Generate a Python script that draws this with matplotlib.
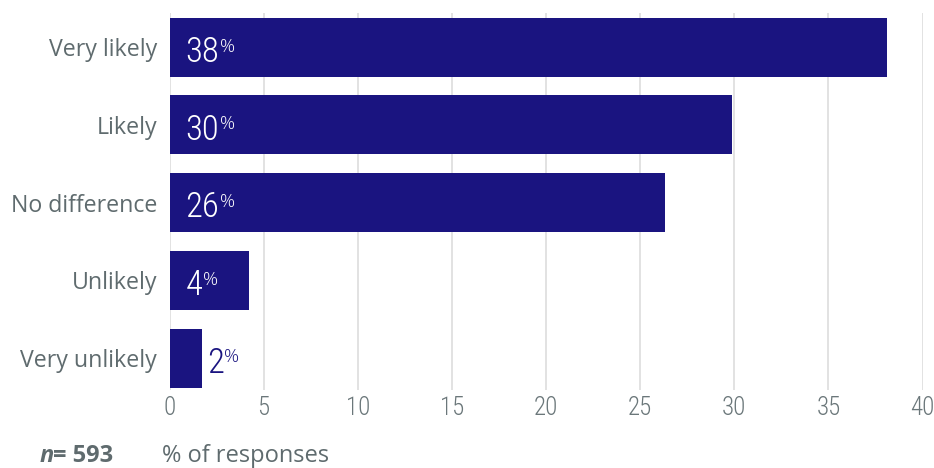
import matplotlib.pyplot as plt

categories = ["Very likely", "Likely", "No difference", "Unlikely", "Very unlikely"]
shares = [38.1, 29.9, 26.3, 4.2, 1.7]
x_ticks = [0, 5, 10, 15, 20, 25, 30, 35, 40]
sample_size = 593

NAVY = "#1a1480"
GREY = "#5f6b6e"
NUM_FONT = ['Roboto Condensed', 'Open Sans', 'DejaVu Sans']

plt.rcParams['font.family'] = ['Open Sans', 'DejaVu Sans']

fig = plt.figure(figsize=(9.34, 4.68), dpi=100)
ax = fig.add_axes([169.5 / 934, 1 - 390 / 468, (922.5 - 169.5) / 934, (390 - 13) / 468])

ypos = list(range(len(categories)))
ax.barh(ypos, shares, height=0.76, color=NAVY, zorder=2)

ax.set_xlim(0, 40)
ax.set_ylim(4.41, -0.44)
ax.set_xticks(x_ticks)
ax.set_xticklabels([str(t) for t in x_ticks], family=NUM_FONT, fontweight=300,
                   fontsize=18, color="#6b777a")
ax.set_yticks(ypos)
ax.set_yticklabels(categories, fontsize=16.7, color=GREY)
ax.tick_params(axis='both', length=0)
ax.tick_params(axis='y', pad=9)
ax.tick_params(axis='x', pad=4)
ax.grid(axis='x', color="#dddddd", linewidth=1.2, zorder=0)
for s in ax.spines.values():
    s.set_visible(False)

# value labels: inside the bar in white, outside in navy when the bar is too short
for y, v in zip(ypos, shares):
    txt = f"{round(v)}"
    if v >= 3:
        x0, col = 0.85, "white"
    else:
        x0, col = v + 0.3, NAVY
    t = ax.text(x0, y + 0.19, txt, family=NUM_FONT, fontsize=25, fontweight=300, color=col,
                va='baseline', ha='left', zorder=3)
    ax.annotate("%", xycoords=t, xy=(1, 1), xytext=(0.3, -1.5), textcoords='offset points',
                fontsize=13.5, fontweight=300, color=col, va='top', ha='left', zorder=3)

yb = 1 - 462 / 468
fig.text(40 / 934, yb, "n", fontsize=17, fontweight='bold', style='italic', color=GREY, va='baseline')
fig.text(53 / 934, yb, f"= {sample_size}", fontsize=17, fontweight='bold', color=GREY, va='baseline')
fig.text(162 / 934, yb, "% of responses", fontsize=17, color=GREY, va='baseline')

fig.savefig("out.png", dpi=100)
